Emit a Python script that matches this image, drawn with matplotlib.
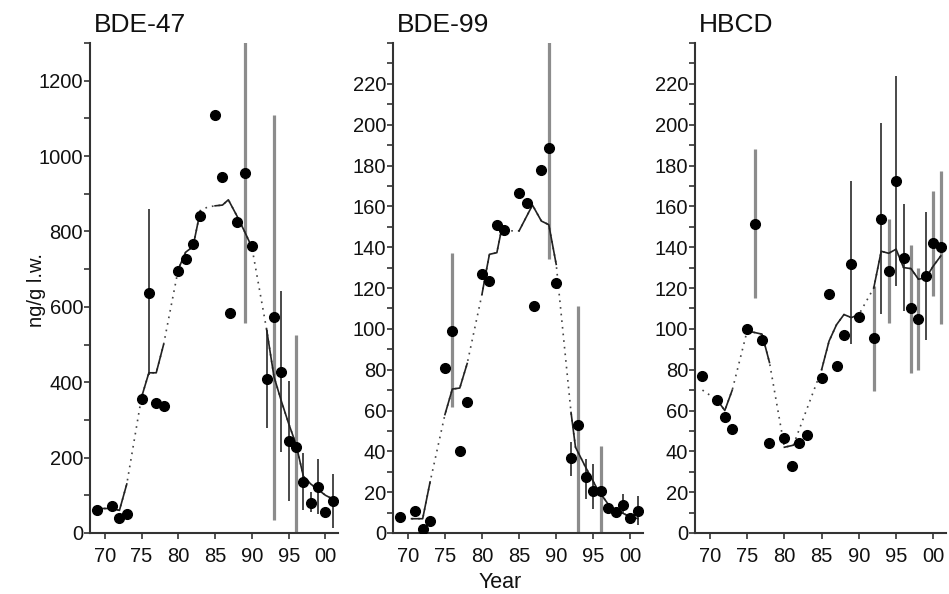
"""
Temporal trends of BDE-47, BDE-99 and HBCD (ng/g l.w.), 1969-2001.
"""
import matplotlib.pyplot as plt
import numpy as np

plt.rcParams['font.family'] = ['Liberation Sans', 'DejaVu Sans']

# years are written as 69..101 (101 = 2001), tick labels below
x_ticks = [70, 75, 80, 85, 90, 95, 100]
x_tick_labels = ['70', '75', '80', '85', '90', '95', '00']

# ---- BDE-47
bde47_years = [69, 71, 72, 73, 75, 76, 77, 78, 80, 81, 82, 83, 85, 86, 87, 88,
               89, 90, 92, 93, 94, 95, 96, 97, 98, 99, 100, 101]
bde47_values = [62, 72, 41, 50, 356, 637, 346, 337, 696, 727, 768, 842, 1110, 945,
                585, 826, 955, 762, 409, 572, 428, 244, 229, 136, 80, 122, 56, 85]
bde47_bar_years = [76, 89, 92, 93, 94, 95, 96, 97, 98, 99, 101]
bde47_bar_low = [420, 556, 279, 35, 216, 85, -20, 61, 55, 50, 14]
bde47_bar_high = [860, 1400, 539, 1110, 641, 404, 525, 212, 110, 197, 156]
bde47_bar_grey = [0, 1, 0, 1, 0, 0, 1, 0, 0, 0, 0]
bde47_trend_years = [69, 71, 72, 73, 75, 76, 77, 78, 80, 81, 82, 83, 84, 85, 86,
                     86.8, 88, 89, 90, 92, 93, 94, 95, 96, 97, 98, 99, 100, 101]
bde47_trend_values = [65, 65, 60, 130, 360, 425, 425, 500, 700, 745, 760, 855, 865,
                      868, 870, 884, 840, 800, 758, 540, 415, 350, 290, 235, 150,
                      130, 115, 100, 90]
bde47_solid = [(69, 73), (75, 78), (80, 83), (85, 90), (92, 101)]

# ---- BDE-99
bde99_years = [69, 71, 72, 73, 75, 76, 77, 78, 80, 81, 82, 83, 85, 86, 87, 88,
               89, 90, 92, 93, 94, 95, 96, 97, 98, 99, 100, 101]
bde99_values = [8, 11, 2, 6, 81, 99, 40, 64, 127, 123.5, 150.7, 148.3, 166.7, 161.8,
                111, 177.6, 188.4, 122.6, 36.5, 53, 27.6, 20.8, 20.8, 12.3, 10.2,
                13.9, 7.4, 11]
bde99_bar_years = [76, 89, 92, 93, 94, 95, 96, 99, 101]
bde99_bar_low = [61.5, 134, 28, -5, 16.7, 11.8, -5, 9.4, 3.7]
bde99_bar_high = [137, 260, 44.4, 111, 36.3, 33.8, 42.8, 19, 18.3]
bde99_bar_grey = [1, 1, 0, 1, 0, 0, 1, 0, 0]
bde99_trend_years = [70.5, 72, 73, 75, 76, 77, 78, 80, 80.5, 81, 82, 82.5, 83.3,
                     84.2, 85, 86.8, 88, 89, 90, 92, 92.6, 94, 95.5, 97.3, 99.6, 101]
bde99_trend_values = [7, 7, 25, 58, 70.5, 71, 83, 117, 127, 136.5, 137.3, 146.3,
                      148, 148, 148, 160.6, 152.8, 151, 131.6, 59, 42, 32, 21.8,
                      12.6, 8.6, 7]
bde99_solid = [(70.5, 73), (75, 78), (80, 83.3), (85, 90), (92, 101)]

# ---- HBCD
hbcd_years = [69, 71, 72, 73, 75, 76, 77, 78, 80, 81, 82, 83, 85, 86, 87, 88,
              89, 90, 92, 93, 94, 95, 96, 97, 98, 99, 100, 101]
hbcd_values = [77, 65, 57, 51, 100, 151.5, 94.5, 44, 46.5, 33, 44, 48, 76, 117,
               82, 97, 132, 106, 95.5, 153.6, 128.4, 172.4, 134.6, 110, 105,
               126, 142, 140]
hbcd_bar_years = [76, 89, 92, 93, 94, 95, 96, 97, 98, 99, 100, 101]
hbcd_bar_low = [115.3, 92.5, 69.7, 107.2, 103, 121, 108.8, 78.6, 79.8, 94.5, 116, 102.3]
hbcd_bar_high = [187.9, 172.4, 121, 200.6, 154, 224, 161.3, 141, 130, 157.4, 167.5, 177.5]
hbcd_bar_grey = [1, 0, 1, 0, 1, 0, 0, 1, 1, 0, 1, 1]
hbcd_trend_years = [69, 71, 72, 73, 75, 76, 77, 78, 80, 81.2, 85, 86, 87, 88, 89,
                    90, 92, 93, 94, 95, 96, 97, 98, 99, 100, 101]
hbcd_trend_values = [70, 65, 60, 70, 99, 98.2, 97.4, 83.5, 42, 43, 80, 94, 102,
                     107, 105.5, 107, 120, 138, 137, 139, 130, 129.5, 124.3, 125,
                     130.8, 135.7]
hbcd_solid = [(71, 73), (75, 78), (80, 81.2), (85, 90), (92, 101)]

panels = [
    ('BDE-47', bde47_years, bde47_values, bde47_bar_years, bde47_bar_low,
     bde47_bar_high, bde47_bar_grey, bde47_trend_years, bde47_trend_values,
     bde47_solid, 1300, 200, 100),
    ('BDE-99', bde99_years, bde99_values, bde99_bar_years, bde99_bar_low,
     bde99_bar_high, bde99_bar_grey, bde99_trend_years, bde99_trend_values,
     bde99_solid, 240, 20, 10),
    ('HBCD', hbcd_years, hbcd_values, hbcd_bar_years, hbcd_bar_low,
     hbcd_bar_high, hbcd_bar_grey, hbcd_trend_years, hbcd_trend_values,
     hbcd_solid, 240, 20, 10),
]

W, H = 949, 594
lefts = [90, 393, 695]
widths = [248, 250, 251]
ax_top, ax_bottom = 43, 533

axis_col = '#333333'

fig = plt.figure(figsize=(W / 100, H / 100), dpi=100)

for i, (name, yrs, vals, byrs, blo, bhi, bgrey, tyrs, tvals, solid,
        ymax, ymajor, yminor) in enumerate(panels):
    ax = fig.add_axes([lefts[i] / W, (H - ax_bottom) / H, widths[i] / W,
                       (ax_bottom - ax_top) / H])

    # error bars
    for x, lo, hi, g in zip(byrs, blo, bhi, bgrey):
        if g:
            ax.vlines(x, lo, hi, color='#8c8c8c', lw=2.3, zorder=2)
        else:
            ax.vlines(x, lo, hi, color='#3a3a3a', lw=1.3, zorder=2)

    # smoothed trend: dotted everywhere, solid where significant
    tyrs = np.array(tyrs, dtype=float)
    tvals = np.array(tvals, dtype=float)
    ax.plot(tyrs, tvals, color='#444444', lw=1.2, linestyle=(0, (1, 3)), zorder=3)
    for a, b in solid:
        m = (tyrs >= a) & (tyrs <= b)
        ax.plot(tyrs[m], tvals[m], color='#222222', lw=1.2, zorder=3)

    ax.plot(yrs, vals, 'o', color='black', markersize=7, zorder=4)

    ax.set_xlim(68, 101.7)
    ax.set_ylim(0, ymax)
    ax.set_xticks(x_ticks)
    ax.set_xticklabels(x_tick_labels)
    ax.set_yticks(np.arange(0, ymax, ymajor))
    ax.set_yticks(np.arange(0, ymax + 1, yminor), minor=True)

    for s in ['top', 'right']:
        ax.spines[s].set_visible(False)
    for s in ['left', 'bottom']:
        ax.spines[s].set_color(axis_col)
        ax.spines[s].set_linewidth(1.5)
    ax.tick_params(which='both', direction='out', color=axis_col, width=1.2,
                   labelsize=14.5, labelcolor='#111111')
    ax.tick_params(which='major', length=4)
    ax.tick_params(which='minor', length=4)
    ax.tick_params(axis='y', pad=1)
    ax.tick_params(axis='x', pad=6)
    ax.set_clip_on(True)

    ax.text(0.015, 1 + 11 / (ax_bottom - ax_top), name, transform=ax.transAxes,
            fontsize=19, ha='left', va='baseline', color='#111111')

fig.text(36 / W, (H - 290) / H, 'ng/g l.w.', rotation=90, fontsize=14.5,
         ha='center', va='center', color='#111111')
fig.text(500 / W, (H - 582) / H, 'Year', fontsize=15.5, ha='center',
         va='center', color='#111111')

plt.savefig('out.png', dpi=100)
